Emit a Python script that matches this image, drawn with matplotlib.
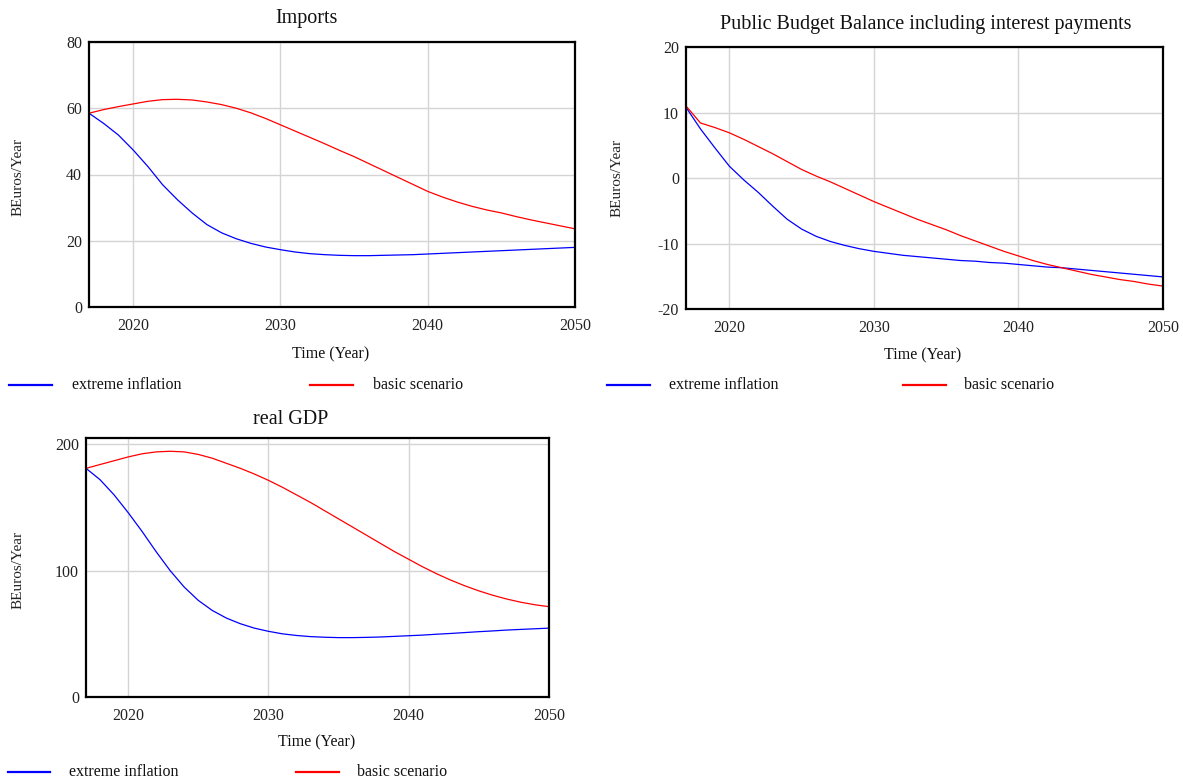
import matplotlib
matplotlib.use("Agg")
import matplotlib.pyplot as plt
from matplotlib.lines import Line2D

plt.rcParams['font.family'] = ['Liberation Serif', 'DejaVu Serif']
plt.rcParams['axes.unicode_minus'] = False

# ---- data ----
years = list(range(2017, 2051))

imports_extreme = [58.5, 55.4, 51.9, 47.4, 42.4, 36.9, 32.4, 28.4, 24.9, 22.4,
                   20.6, 19.2, 18.1, 17.3, 16.6, 16.1, 15.8, 15.6, 15.5, 15.5,
                   15.6, 15.7, 15.8, 16.0, 16.2, 16.4, 16.6, 16.8, 17.0, 17.2,
                   17.4, 17.6, 17.8, 18.0]
imports_basic = [58.5, 59.6, 60.5, 61.3, 62.1, 62.6, 62.7, 62.5, 61.9, 61.1,
                 60.0, 58.6, 56.9, 55.0, 53.1, 51.2, 49.3, 47.3, 45.4, 43.3,
                 41.2, 39.1, 37.0, 34.9, 33.2, 31.7, 30.4, 29.3, 28.4, 27.3,
                 26.3, 25.4, 24.5, 23.6]

budget_extreme = [10.8, 7.5, 4.6, 1.8, -0.3, -2.2, -4.3, -6.3, -7.8, -8.9,
                  -9.7, -10.3, -10.8, -11.2, -11.5, -11.8, -12.0, -12.2, -12.4, -12.6,
                  -12.7, -12.9, -13.0, -13.2, -13.4, -13.6, -13.7, -13.9, -14.1, -14.3,
                  -14.5, -14.7, -14.9, -15.1]
budget_basic = [11.0, 8.4, 7.7, 6.9, 5.9, 4.8, 3.7, 2.5, 1.3, 0.3,
                -0.6, -1.6, -2.6, -3.6, -4.5, -5.4, -6.3, -7.1, -7.9, -8.8,
                -9.6, -10.4, -11.2, -11.9, -12.6, -13.2, -13.7, -14.2, -14.7, -15.1,
                -15.5, -15.8, -16.2, -16.5]

gdp_extreme = [181, 172, 160, 146, 131, 115, 100, 87, 76.5, 68.5,
               62.5, 58, 54.5, 52, 50, 48.7, 47.8, 47.3, 47, 47,
               47.2, 47.5, 48, 48.5, 49, 49.7, 50.3, 51, 51.7, 52.3,
               53, 53.5, 54, 54.5]
gdp_basic = [181, 184, 187, 190, 192.5, 194, 194.5, 194, 192, 189,
             185, 181, 176.5, 171.5, 166, 160, 154, 147.5, 141, 134.5,
             128, 121.5, 115, 109, 103, 97.5, 92.5, 88, 84, 80.5,
             77.5, 75, 73, 71.5]

series_names = ['extreme inflation', 'basic scenario']
colors = ['#0000ff', '#ff0000']

W, H = 1183, 781
fig = plt.figure(figsize=(W / 100, H / 100), dpi=100)


def px(x, y):
    return x / W, 1 - y / H


def make_panel(box, title, title_xy, ylab_xy, xlab_xy, legend_y, legend_px,
               extreme, basic, ylim, yticks):
    l, t, r, b = box
    ax = fig.add_axes([l / W, 1 - b / H, (r - l) / W, (b - t) / H])
    ax.plot(years, extreme, color=colors[0], lw=0.9)
    ax.plot(years, basic, color=colors[1], lw=0.9)
    ax.set_xlim(2017, 2050)
    ax.set_ylim(*ylim)
    ax.set_xticks([2020, 2030, 2040, 2050])
    ax.set_yticks(yticks)
    ax.grid(True, color='#d4d4d4', lw=1.0)
    ax.set_axisbelow(True)
    ax.tick_params(length=0, labelsize=11.5, colors='#222222')
    ax.tick_params(axis='x', pad=8)
    ax.tick_params(axis='y', pad=5)
    for s in ax.spines.values():
        s.set_linewidth(1.6)
        s.set_color('black')
    fig.text(*px(*title_xy), title, ha='center', va='center', fontsize=14.5,
             color='#111111')
    fig.text(*px(*ylab_xy), 'BEuros/Year', ha='center', va='center',
             rotation=90, fontsize=11, color='#222222')
    fig.text(*px(*xlab_xy), 'Time (Year)', ha='center', va='center',
             fontsize=11.5, color='#111111')
    # legend row under the panel
    for (x0, x1, xt), name, c in zip(legend_px, series_names, colors):
        fig.add_artist(Line2D([x0 / W, x1 / W], [1 - legend_y / H] * 2,
                              transform=fig.transFigure, color=c, lw=1.6))
        fig.text(xt / W, 1 - legend_y / H, name, ha='left', va='center',
                 fontsize=11.5, color='#111111')
    return ax


make_panel((89, 42, 575, 307), 'Imports', (306, 19), (18, 177), (331, 354), 385,
           [(9, 52, 72), (310, 353, 373)],
           imports_extreme, imports_basic, (0, 80), [0, 20, 40, 60, 80])

make_panel((686, 47, 1163, 309), 'Public Budget Balance including interest payments',
           (926, 25), (617, 178), (923, 355), 385,
           [(607, 650, 669), (903, 946, 964)],
           budget_extreme, budget_basic, (-20, 20), [-20, -10, 0, 10, 20])

make_panel((86, 438, 549, 697), 'real GDP', (291, 420), (18, 570), (317, 742), 772,
           [(8, 50, 69), (296, 339, 357)],
           gdp_extreme, gdp_basic, (0, 205), [0, 100, 200])

fig.savefig('out.png', dpi=100, facecolor='white')
